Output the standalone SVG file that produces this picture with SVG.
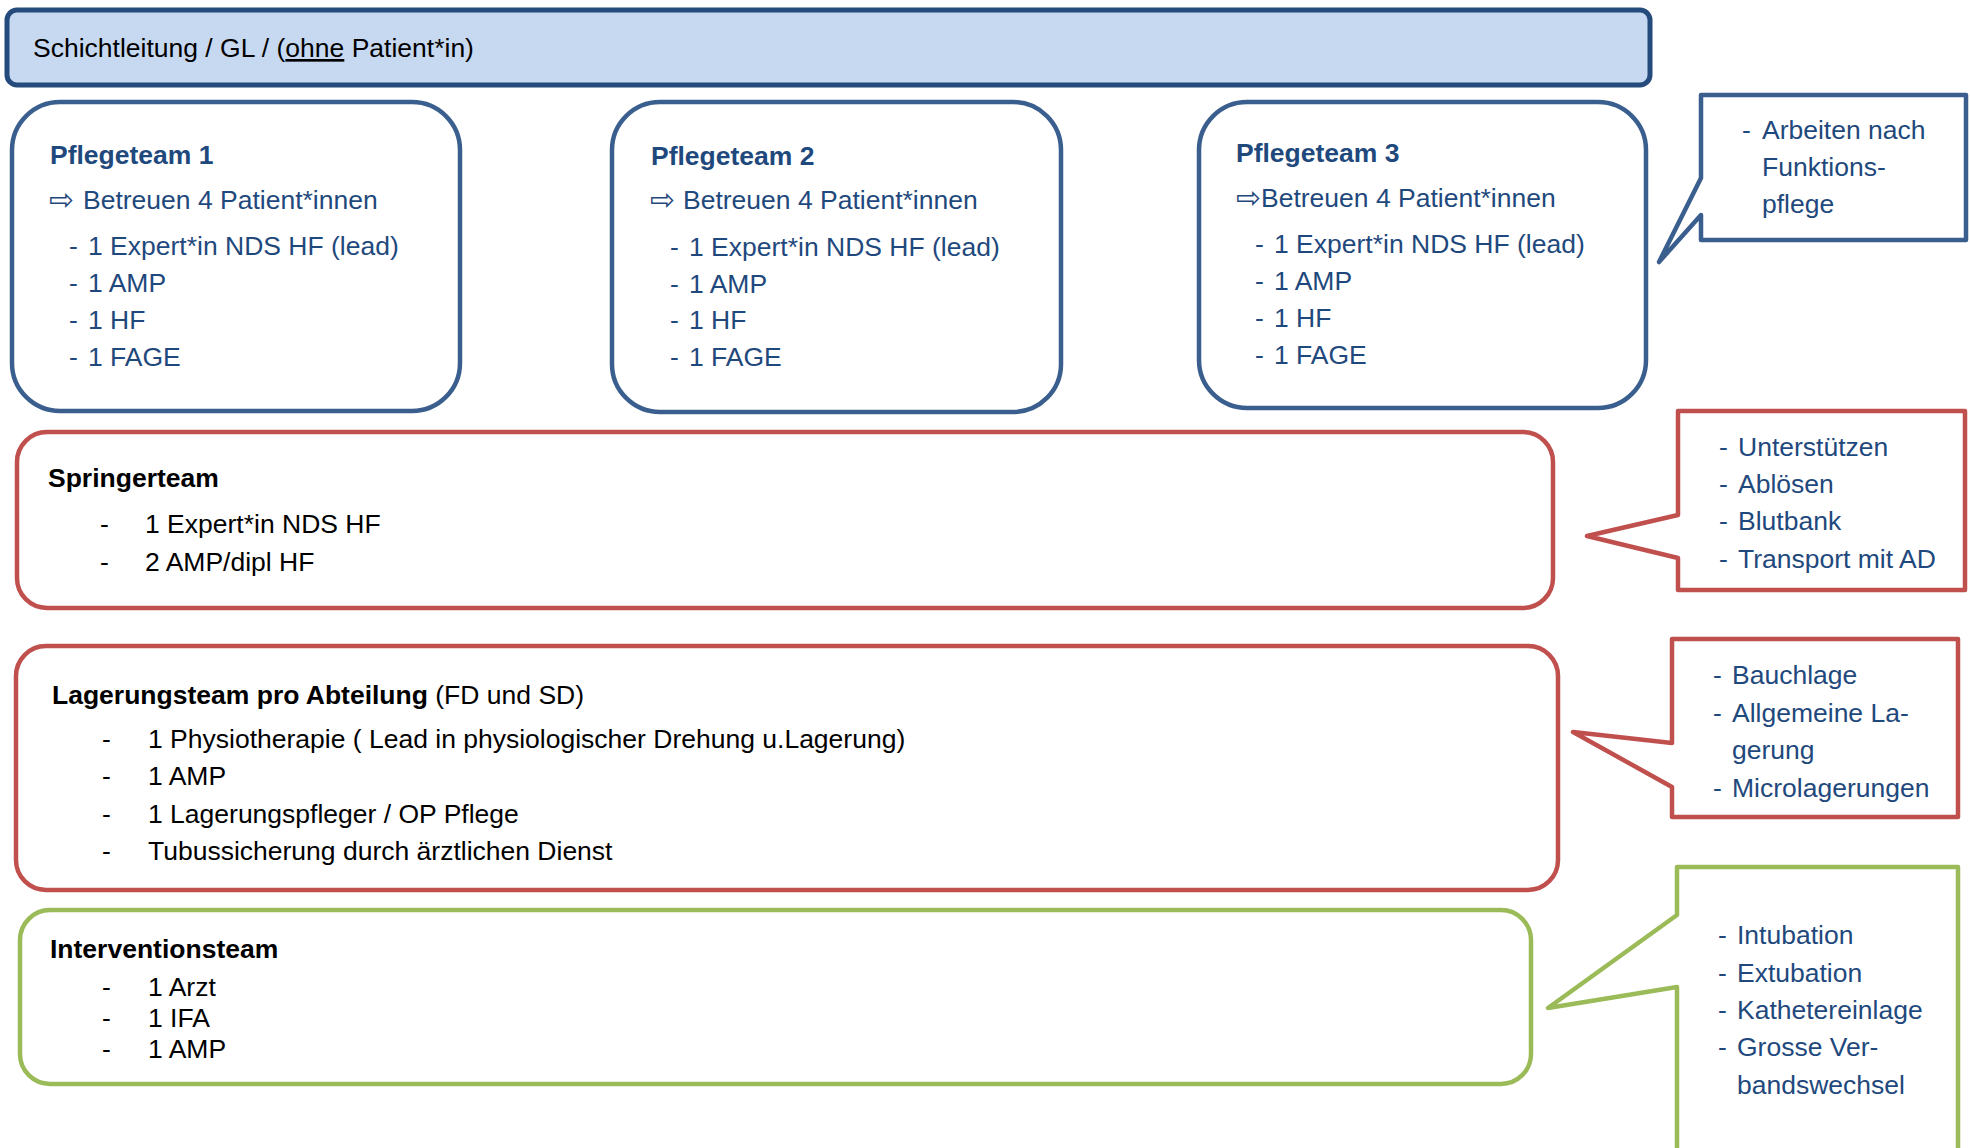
<svg xmlns="http://www.w3.org/2000/svg" width="1970" height="1148" viewBox="0 0 1970 1148">
<style>
text{font-family:"Liberation Sans",Arial,sans-serif;font-size:26.5px}
.b{fill:#1F497D}
.k{fill:#000}
.bold{font-weight:bold}
.sym{font-family:"DejaVu Sans",sans-serif;font-size:30px}
.team{fill:#fff;stroke:#3A5F8E;stroke-width:4.5}
.red{fill:#fff;stroke:#C0504D;stroke-width:4.5}
.green{fill:#fff;stroke:#9BBB59;stroke-width:4.5}
.callB{fill:#fff;stroke:#3A5F8E;stroke-width:4.5;stroke-linejoin:round}
.callR{fill:#fff;stroke:#C0504D;stroke-width:4.5;stroke-linejoin:round}
.callG{fill:#fff;stroke:#9BBB59;stroke-width:4.5;stroke-linejoin:round}
</style>
<rect width="1970" height="1148" fill="#fff"/>

<g id="schichtleitung">
<rect x="7" y="10" width="1643" height="75" rx="10" fill="#C6D9F1" stroke="#254A7C" stroke-width="5"/>
<text x="33" y="57" class="k">Schichtleitung / GL / (<tspan text-decoration="underline">ohne</tspan> Patient*in)</text>
</g>

<g id="pflegeteam1">
<rect x="12" y="102" width="448" height="309" rx="48" class="team"/>
<text x="50" y="164" class="b bold">Pflegeteam 1</text>
<text x="49" y="210" class="b sym">⇨</text>
<text x="83" y="209" class="b">Betreuen 4 Patient*innen</text>
<text x="69" y="255" class="b">-</text><text x="88" y="255" class="b">1 Expert*in NDS HF (lead)</text>
<text x="69" y="292" class="b">-</text><text x="88" y="292" class="b">1 AMP</text>
<text x="69" y="329" class="b">-</text><text x="88" y="329" class="b">1 HF</text>
<text x="69" y="366" class="b">-</text><text x="88" y="366" class="b">1 FAGE</text>
</g>

<g id="pflegeteam2">
<rect x="612" y="102" width="449" height="310" rx="48" class="team"/>
<text x="651" y="165" class="b bold">Pflegeteam 2</text>
<text x="650" y="210" class="b sym">⇨</text>
<text x="683" y="209" class="b">Betreuen 4 Patient*innen</text>
<text x="670" y="256" class="b">-</text><text x="689" y="256" class="b">1 Expert*in NDS HF (lead)</text>
<text x="670" y="293" class="b">-</text><text x="689" y="293" class="b">1 AMP</text>
<text x="670" y="329" class="b">-</text><text x="689" y="329" class="b">1 HF</text>
<text x="670" y="366" class="b">-</text><text x="689" y="366" class="b">1 FAGE</text>
</g>

<g id="pflegeteam3">
<rect x="1199" y="102" width="447" height="306" rx="48" class="team"/>
<text x="1236" y="162" class="b bold">Pflegeteam 3</text>
<text x="1236" y="208" class="b sym">⇨</text>
<text x="1261" y="207" class="b">Betreuen 4 Patient*innen</text>
<text x="1255" y="253" class="b">-</text><text x="1274" y="253" class="b">1 Expert*in NDS HF (lead)</text>
<text x="1255" y="290" class="b">-</text><text x="1274" y="290" class="b">1 AMP</text>
<text x="1255" y="327" class="b">-</text><text x="1274" y="327" class="b">1 HF</text>
<text x="1255" y="364" class="b">-</text><text x="1274" y="364" class="b">1 FAGE</text>
</g>

<g id="callout-funktionspflege">
<path d="M1701,95 H1966 V240 H1701 V215 L1659,262 L1701,178 Z" class="callB"/>
<text x="1742" y="139" class="b">-</text><text x="1762" y="139" class="b">Arbeiten nach</text>
<text x="1762" y="176" class="b">Funktions-</text>
<text x="1762" y="213" class="b">pflege</text>
</g>

<g id="springerteam">
<rect x="17" y="432" width="1536" height="176" rx="30" class="red"/>
<text x="48" y="487" class="k bold">Springerteam</text>
<text x="100" y="533" class="k">-</text><text x="145" y="533" class="k">1 Expert*in NDS HF</text>
<text x="100" y="571" class="k">-</text><text x="145" y="571" class="k">2 AMP/dipl HF</text>
</g>

<g id="callout-springer">
<path d="M1678,411 H1965 V590 H1678 V558 L1587,536 L1678,515 Z" class="callR"/>
<text x="1719" y="456" class="b">-</text><text x="1738" y="456" class="b">Unterstützen</text>
<text x="1719" y="493" class="b">-</text><text x="1738" y="493" class="b">Ablösen</text>
<text x="1719" y="530" class="b">-</text><text x="1738" y="530" class="b">Blutbank</text>
<text x="1719" y="568" class="b">-</text><text x="1738" y="568" class="b">Transport mit AD</text>
</g>

<g id="lagerungsteam">
<rect x="16" y="646" width="1542" height="244" rx="30" class="red"/>
<text x="52" y="704" class="k"><tspan class="bold">Lagerungsteam pro Abteilung</tspan> (FD und SD)</text>
<text x="102" y="748" class="k">-</text><text x="148" y="748" class="k">1 Physiotherapie ( Lead in physiologischer Drehung u.Lagerung)</text>
<text x="102" y="785" class="k">-</text><text x="148" y="785" class="k">1 AMP</text>
<text x="102" y="823" class="k">-</text><text x="148" y="823" class="k">1 Lagerungspfleger / OP Pflege</text>
<text x="102" y="860" class="k">-</text><text x="148" y="860" class="k">Tubussicherung durch ärztlichen Dienst</text>
</g>

<g id="callout-lagerung">
<path d="M1672,639 H1958 V817 H1672 V787 L1573,732 L1672,743 Z" class="callR"/>
<text x="1713" y="684" class="b">-</text><text x="1732" y="684" class="b">Bauchlage</text>
<text x="1713" y="722" class="b">-</text><text x="1732" y="722" class="b">Allgemeine La-</text>
<text x="1732" y="759" class="b">gerung</text>
<text x="1713" y="797" class="b">-</text><text x="1732" y="797" class="b">Microlagerungen</text>
</g>

<g id="interventionsteam">
<rect x="20" y="910" width="1511" height="174" rx="30" class="green"/>
<text x="50" y="958" class="k bold">Interventionsteam</text>
<text x="102" y="996" class="k">-</text><text x="148" y="996" class="k">1 Arzt</text>
<text x="102" y="1027" class="k">-</text><text x="148" y="1027" class="k">1 IFA</text>
<text x="102" y="1058" class="k">-</text><text x="148" y="1058" class="k">1 AMP</text>
</g>

<g id="callout-intervention">
<path d="M1677,867 H1958 V1165 H1677 V987 L1548,1008 L1677,915 Z" class="callG"/>
<text x="1718" y="944" class="b">-</text><text x="1737" y="944" class="b">Intubation</text>
<text x="1718" y="982" class="b">-</text><text x="1737" y="982" class="b">Extubation</text>
<text x="1718" y="1019" class="b">-</text><text x="1737" y="1019" class="b">Kathetereinlage</text>
<text x="1718" y="1056" class="b">-</text><text x="1737" y="1056" class="b">Grosse Ver-</text>
<text x="1737" y="1094" class="b">bandswechsel</text>
</g>

<g id="connectors"></g>
</svg>
